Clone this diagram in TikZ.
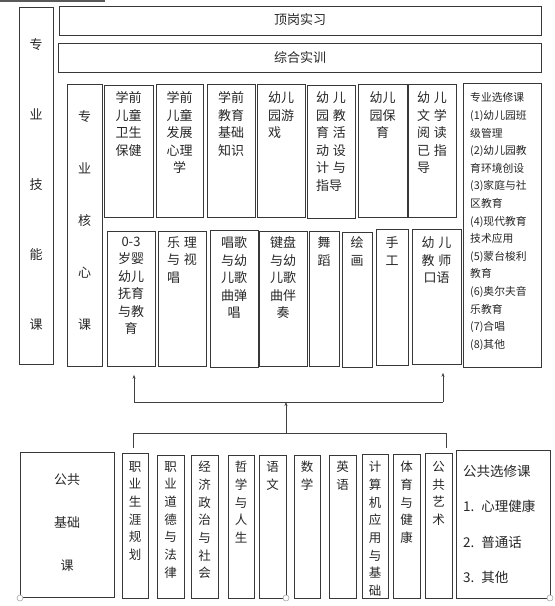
\documentclass[tikz,border=0pt]{standalone}
\usepackage{fontspec}
\newfontfamily\cjk{Noto Sans CJK SC}
\usetikzlibrary{arrows.meta}
\tikzset{
  boxst/.style={draw=black!78, line width=0.8pt, inner sep=0pt, anchor=north west},
  txt/.style={font=\cjk\fontsize{13}{17.5}\selectfont, inner sep=0pt, anchor=north, text=black!85},
  pubtxt/.style={font=\cjk\fontsize{12.5}{17.7}\selectfont, inner sep=0pt, anchor=north, align=center, text=black!85},
  conn/.style={draw=black!75, line width=0.8pt},
  tip/.style={-{Stealth[length=4pt,width=3pt]}},
  handle/.style={draw=black!35, fill=white, line width=0.6pt}
}
\newcommand\kgap{\hspace{4pt}}
% optional align, name, x1, y1, x2, y2, first-line centre y, text
\newcommand\mkbox[8][center]{%
  \node[boxst, minimum width={(#5-#3)*1pt}, minimum height={(#6-#4)*1pt}] (#2) at (#3,#4) {};
  \node[txt, align=#1] (#2t) at ({(#3+#5)/2},{#7-6.5}) {#8};}
\newcommand\pubbox[6]{%
  \node[boxst, minimum width={(#4-#2)*1pt}, minimum height={(#5-#3)*1pt}] (#1) at (#2,#3) {};
  \node[pubtxt] (#1t) at ({(#2+#4)/2},461) {#6};}
\begin{document}
\begin{tikzpicture}[x=1pt,y=-1pt]
\useasboundingbox (0,0) rectangle (555,606);
\fill[black!65] (0,0) rectangle (105,2);

% left label columns
\node[boxst, minimum width=34pt, minimum height=357pt] (skill) at (19,7) {};
\node[txt, align=center, font=\cjk\fontsize{13}{70}\selectfont] (skillt) at (36,38.5) {专\\业\\技\\能\\课};
\node[boxst, minimum width=35pt, minimum height=282pt] (core) at (67,84) {};
\node[txt, align=center, font=\cjk\fontsize{13}{52}\selectfont] (coret) at (84.5,110.5) {专\\业\\核\\心\\课};

% top bars
\node[boxst, minimum width=482pt, minimum height=29pt] (dg) at (59,6) {};
\node[txt, anchor=center] (dgt) at (300,20) {顶岗实习};
\node[boxst, minimum width=483pt, minimum height=29pt] (zh) at (58,43) {};
\node[txt, anchor=center] (zht) at (300,58) {综合实训};

% core courses, upper row
\mkbox{a1}{104}{85}{153}{217}{98}{学前\\儿童\\卫生\\保健}
\mkbox{a2}{156}{84}{203}{217}{98}{学前\\儿童\\发展\\心理\\学}
\mkbox{a3}{207}{84}{255}{217}{98}{学前\\教育\\基础\\知识}
\mkbox[left]{a4}{257}{84}{305}{217}{98}{幼儿\\园游\\戏}
\mkbox[left]{a5}{307}{85}{355}{218}{98}{幼\kgap{}儿\\园\kgap{}教\\育\kgap{}活\\动\kgap{}设\\计\kgap{}与\\指导}
\mkbox{a6}{358}{84}{407}{217}{98}{幼儿\\园保\\育}
\mkbox[left]{a7}{408}{84}{456}{217}{98}{幼\kgap{}儿\\文\kgap{}学\\阅\kgap{}读\\已\kgap{}指\\导}

% professional electives
\node[boxst, minimum width=78pt, minimum height=284pt] (pe) at (463,83) {};
\node[inner sep=0pt, anchor=north west, align=left, text=black!85, font=\cjk\fontsize{10.8}{17.6}\selectfont] (pet) at (470,92.5)
 {专业选修课\\(1)幼儿园班\\级管理\\(2)幼儿园教\\育环境创设\\(3)家庭与社\\区教育\\(4)现代教育\\技术应用\\(5)蒙台梭利\\教育\\(6)奥尔夫音\\乐教育\\(7)合唱\\(8)其他};

% core courses, lower row
\mkbox{b1}{107}{231}{155}{366}{243}{0-3\\岁婴\\幼儿\\抚育\\与教\\育}
\mkbox[left]{b2}{158}{231}{206}{366}{243}{乐\kgap{}理\\与\kgap{}视\\唱}
\mkbox{b3}{210}{230}{258}{367}{243}{唱歌\\与幼\\儿歌\\曲弹\\唱}
\mkbox{b4}{259}{231}{307}{366}{243}{键盘\\与幼\\儿歌\\曲伴\\奏}
\mkbox{b5}{309}{231}{339}{366}{243}{舞\\蹈}
\mkbox{b6}{342}{232}{372}{367}{243}{绘\\画}
\mkbox{b7}{376}{229}{408}{365}{243}{手\\工}
\mkbox{b8}{412}{229}{461}{364}{243}{幼\kgap{}儿\\教\kgap{}师\\口语}

% connectors
\coordinate (jt1) at (134,402);
\coordinate (jt2) at (443,402);
\coordinate (jmt) at (286,402);
\coordinate (jb1) at (133,433);
\coordinate (jb2) at (446,433);
\coordinate (jm) at (286,433);
\draw[conn] (jt1) -- (jt2);
\draw[conn, tip, shorten >=8pt] (jt1) -- (jt1 |- b1.south);
\draw[conn, tip, shorten >=8pt] (jt2) -- (jt2 |- b8.south);
\draw[conn, tip] (jm) -- (jmt);
\draw[conn] (jb1) -- (jb2);

% public basic courses
\node[boxst, minimum width=94pt, minimum height=145pt] (pb) at (20,452) {};
\node[txt, align=center, font=\cjk\fontsize{13}{43}\selectfont] (pbt) at (67,473.5) {公共\\基础\\课};
\pubbox{p1}{122}{453}{148}{598}{职\\业\\生\\涯\\规\\划}
\pubbox{p2}{157}{455}{184}{598}{职\\业\\道\\德\\与\\法\\律}
\pubbox{p3}{191}{455}{218}{598}{经\\济\\政\\治\\与\\社\\会}
\pubbox{p4}{228}{455}{254}{598}{哲\\学\\与\\人\\生}
\pubbox{p5}{259}{455}{286}{598}{语\\文}
\pubbox{p6}{294}{455}{320}{598}{数\\学}
\pubbox{p7}{329}{455}{356}{598}{英\\语}
\pubbox{p8}{362}{454}{388}{598}{计\\算\\机\\应\\用\\与\\基\\础}
\pubbox{p9}{393}{454}{420}{598}{体\\育\\与\\健\\康}
\pubbox{p10}{425}{453}{452}{598}{公\\共\\艺\\术}
\draw[conn, shorten >=5pt] (jb1) -- (jb1 |- p1.north);
\draw[conn, shorten >=5pt] (jb2) -- (jb2 |- p10.north);

% public electives
\node[boxst, minimum width=94pt, minimum height=148pt] (pu) at (456,450) {};
\node[inner sep=0pt, anchor=north west, align=left, text=black!85, font=\cjk\fontsize{13.5}{35.3}\selectfont] (put) at (463,465)
 {公共选修课\\1.\hspace{7pt}心理健康\\2.\hspace{7pt}普通话\\3.\hspace{7pt}其他};

% selection handles
\draw[handle] (20,598) circle (3);
\draw[handle] (286,598) circle (3);
\draw[handle] (550,598) circle (3);
\end{tikzpicture}
\end{document}
